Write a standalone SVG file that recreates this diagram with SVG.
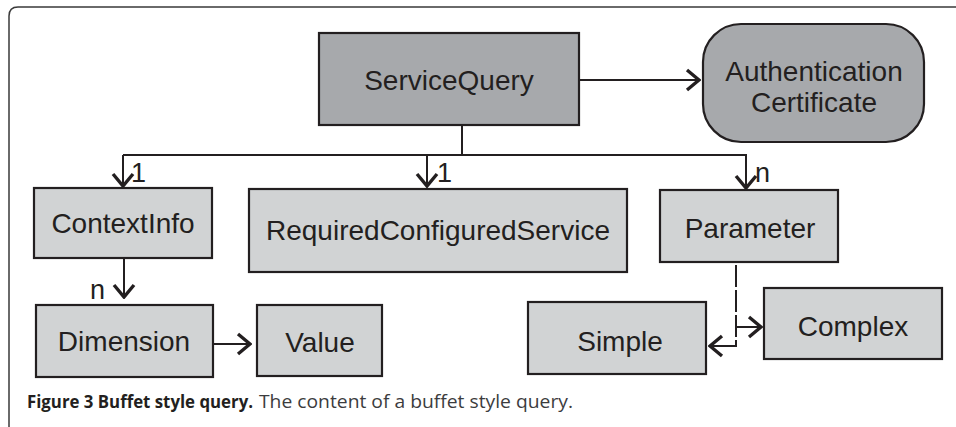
<svg xmlns="http://www.w3.org/2000/svg" width="956" height="427" viewBox="0 0 956 427">
<defs>
<style>
.box{stroke:#231f20;stroke-width:2.2}
.dark{fill:#a7a9ac}
.light{fill:#d1d3d4}
.lbl{font-family:'Liberation Sans',Arial,Helvetica,sans-serif;font-size:28px;fill:#231f20;text-anchor:middle}
.card{font-family:'Liberation Sans',Arial,Helvetica,sans-serif;font-size:27px;fill:#231f20}
.con{fill:none;stroke:#231f20;stroke-width:2}
.cap{font-family:'Open Sans','Liberation Sans',sans-serif;font-size:18px}
</style>
<marker id="ah" viewBox="-16 -14 18 28" refX="0" refY="0" markerWidth="18" markerHeight="28" orient="auto" markerUnits="userSpaceOnUse">
<path d="M-12,-10 L0,0 L-12,10" fill="none" stroke="#231f20" stroke-width="3.4"/>
</marker>
</defs>
<rect width="956" height="427" fill="#ffffff"/>
<path d="M9,427 V16 Q9,7 18,7 H956" fill="none" stroke="#3a3a3a" stroke-width="1.5"/>

<g id="connectors">
<line class="con" x1="580" y1="80" x2="699" y2="80" marker-end="url(#ah)"/>
<line class="con" x1="462" y1="125" x2="462" y2="155"/>
<line class="con" x1="123" y1="155" x2="747" y2="155"/>
<line class="con" x1="123" y1="155" x2="123" y2="186" marker-end="url(#ah)"/>
<line class="con" x1="427" y1="155" x2="427" y2="186" marker-end="url(#ah)"/>
<line class="con" x1="746" y1="155" x2="746" y2="188" marker-end="url(#ah)"/>
<line class="con" x1="124" y1="259" x2="124" y2="297" marker-end="url(#ah)"/>
<line class="con" x1="212" y1="344" x2="250" y2="344" marker-end="url(#ah)"/>
<line class="con" x1="736" y1="265" x2="736" y2="346" stroke-dasharray="22 3"/>
<line class="con" x1="736" y1="327" x2="761" y2="327" marker-end="url(#ah)"/>
<line class="con" x1="737" y1="346" x2="710" y2="346" marker-end="url(#ah)"/>
<text class="card" x="131" y="182">1</text>
<text class="card" x="437" y="182">1</text>
<text class="card" x="755" y="182">n</text>
<text class="card" x="90" y="299">n</text>
</g>

<g id="ServiceQuery">
<rect class="box dark" x="319" y="33" width="260" height="92"/>
<text class="lbl" x="449" y="90">ServiceQuery</text>
</g>
<g id="AuthenticationCertificate">
<rect class="box dark" x="703" y="24" width="221" height="118" rx="38" ry="38"/>
<text class="lbl" x="814" y="81">Authentication</text>
<text class="lbl" x="814" y="112">Certificate</text>
</g>
<g id="ContextInfo">
<rect class="box light" x="34" y="188" width="178" height="70"/>
<text class="lbl" x="123" y="233">ContextInfo</text>
</g>
<g id="RequiredConfiguredService">
<rect class="box light" x="249" y="189" width="378" height="83"/>
<text class="lbl" x="438" y="240">RequiredConfiguredService</text>
</g>
<g id="Parameter">
<rect class="box light" x="660" y="190" width="178" height="72"/>
<text class="lbl" x="750" y="238">Parameter</text>
</g>
<g id="Dimension">
<rect class="box light" x="36" y="305" width="177" height="72"/>
<text class="lbl" x="124" y="351">Dimension</text>
</g>
<g id="Value">
<rect class="box light" x="257" y="305" width="125" height="71"/>
<text class="lbl" x="320" y="352">Value</text>
</g>
<g id="Simple">
<rect class="box light" x="528" y="302" width="178" height="72"/>
<text class="lbl" x="620" y="351">Simple</text>
</g>
<g id="Complex">
<rect class="box light" x="764" y="288" width="178" height="71"/>
<text class="lbl" x="853" y="336">Complex</text>
</g>

<g id="caption">
<text class="cap" x="27" y="408"><tspan font-weight="bold" fill="#231f20" textLength="226" lengthAdjust="spacingAndGlyphs">Figure 3 Buffet style query.</tspan><tspan x="259" fill="#3c3c3e" textLength="314" lengthAdjust="spacingAndGlyphs">The content of a buffet style query.</tspan></text>
</g>
</svg>
